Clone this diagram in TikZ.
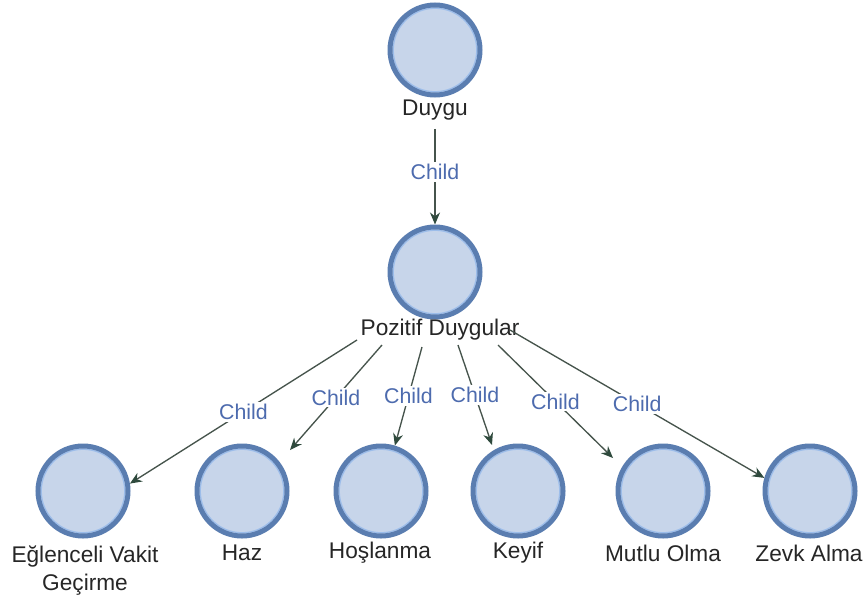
\documentclass[tikz,border=0pt]{standalone}
\usepackage{fontspec}
\setmainfont{Liberation Sans}
\usetikzlibrary{arrows.meta}

\definecolor{ringblue}{HTML}{5A7DB0}
\definecolor{ringlight}{HTML}{9CBDEA}
\definecolor{bodyblue}{HTML}{C7D5EA}
\definecolor{edgegray}{HTML}{46544C}
\definecolor{tipgreen}{HTML}{2F4A3D}
\definecolor{relblue}{HTML}{4D6BAE}

\tikzset{
  concept/.style={circle, inner sep=0pt, minimum size=67.5pt,
    draw=ringblue, line width=3.75pt, fill=bodyblue,
    path picture={\draw[ringlight, line width=0.9pt]
      (path picture bounding box.center) circle (31.3pt);}},
  caption/.style={font=\fontsize{17}{21}\selectfont, text=black!85,
    inner sep=1pt, align=center},
  edge/.style={draw=edgegray, line width=1pt,
    -{Stealth[length=9pt,width=7.5pt,color=tipgreen]}},
  rel/.style={font=\fontsize{16}{19}\selectfont, text=relblue,
    fill=white, inner sep=1.5pt}
}

\begin{document}
\begin{tikzpicture}[x=0.75pt,y=-0.75pt]
  \fill[white] (0,0) rectangle (866,596);
  \useasboundingbox (0,0) rectangle (866,596);

  % root concept
  \node[concept] (root) at (435,50) {};
  \node[caption] (rootl) at (435,110) {Duygu};

  % middle concept
  \node[concept] (pos) at (435,272) {};
  \node[caption] (posl) at (440,330) {Pozitif Duygular};

  % leaves
  \node[concept] (c1) at (83,491) {};
  \node[concept] (c2) at (242,491) {};
  \node[concept] (c3) at (381,491) {};
  \node[concept] (c4) at (518,491) {};
  \node[concept] (c5) at (663,491) {};
  \node[concept] (c6) at (810,491) {};

  \node[caption] (l1) at (85,571) {Eğlenceli Vakit\\Geçirme};
  \node[caption] (l2) at (242,553) {Haz};
  \node[caption] (l3) at (380,553) {Hoşlanma};
  \node[caption] (l4) at (518,553) {Keyif};
  \node[caption] (l5) at (663,553) {Mutlu Olma};
  \node[caption] (l6) at (809,553) {Zevk Alma};

  % connector ends on the parent caption
  \coordinate (s1) at (357,340);
  \coordinate (s2) at (382,345);
  \coordinate (s3) at (422,347);
  \coordinate (s4) at (458,345);
  \coordinate (s5) at (498,345);
  \coordinate (s6) at (510,330);

  % connector ends next to each leaf
  \coordinate (t2) at (290,450);
  \coordinate (t4) at (492,445);
  \coordinate (t5) at (613,458);

  \draw[edge] (rootl.south) ++(0,7) -- (pos.north) node[rel, pos=0.45] {Child};

  \draw[edge] (s1) -- (c1.9)   node[rel, midway] {Child};
  \draw[edge] (s2) -- (t2)     node[rel, midway] {Child};
  \draw[edge] (s3) -- (c3.73)  node[rel, midway] {Child};
  \draw[edge] (s4) -- (t4)     node[rel, midway] {Child};
  \draw[edge] (s5) -- (t5)     node[rel, midway] {Child};
  \draw[edge] (s6) -- (c6.164) node[rel, midway] {Child};
\end{tikzpicture}
\end{document}
